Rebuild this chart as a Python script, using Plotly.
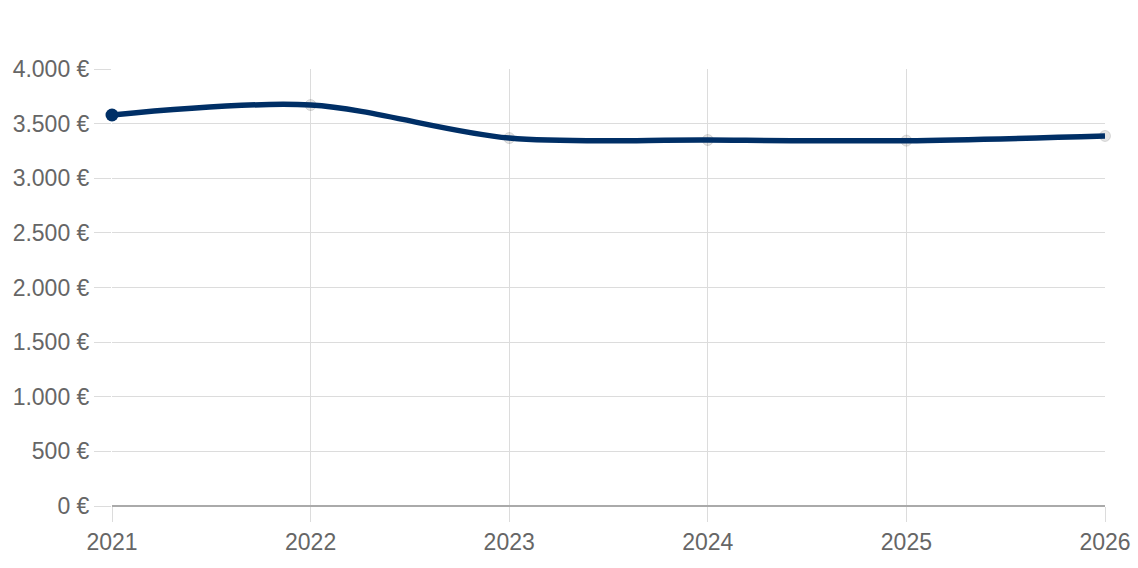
import plotly.graph_objects as go

years = [2021, 2022, 2023, 2024, 2025, 2026]
values = [3579, 3670, 3368, 3350, 3344, 3387]
y_tickvals = [0, 500, 1000, 1500, 2000, 2500, 3000, 3500, 4000]
y_ticktext = ["0 €", "500 €", "1.000 €", "1.500 €", "2.000 €", "2.500 €", "3.000 €", "3.500 €", "4.000 €"]
x_ticktext = ["2021", "2022", "2023", "2024", "2025", "2026"]

LINE = "#002f66"

fig = go.Figure()
# light markers behind line
fig.add_trace(go.Scatter(
    x=years[1:], y=values[1:], mode="markers", cliponaxis=False,
    marker=dict(size=11, color="rgba(0,0,0,0.1)", line=dict(color="rgba(0,0,0,0.12)", width=1)),
    hoverinfo="skip", showlegend=False))
fig.add_trace(go.Scatter(
    x=years, y=values, mode="lines", cliponaxis=False,
    line=dict(color=LINE, width=5.5, shape="spline", smoothing=0.9),
    showlegend=False))
fig.add_trace(go.Scatter(
    x=years[:1], y=values[:1], mode="markers", cliponaxis=False,
    marker=dict(size=13, color=LINE),
    showlegend=False))

fig.update_layout(
    width=1138, height=568,
    margin=dict(l=112, r=33, t=69, b=62),
    paper_bgcolor="white", plot_bgcolor="white",
    font=dict(family="Liberation Sans, Arial, sans-serif", size=23, color="#666"),
    xaxis=dict(
        range=[2021, 2026], tickvals=years, ticktext=x_ticktext,
        showgrid=True, gridcolor="#dcdcdc", gridwidth=1,
        ticks="outside", ticklen=15, tickcolor="#dcdcdc",
        zeroline=False, showline=False, fixedrange=True, automargin=False,
    ),
    yaxis=dict(
        range=[0, 4000], tickvals=y_tickvals, ticktext=y_ticktext,
        showgrid=True, gridcolor="#dcdcdc", gridwidth=1,
        ticks="outside", ticklen=17, tickcolor="#dcdcdc",
        zeroline=True, zerolinecolor="#aaaaaa", zerolinewidth=2,
        showline=False, fixedrange=True, automargin=False,
    ),
)

fig.write_html("out.html")
